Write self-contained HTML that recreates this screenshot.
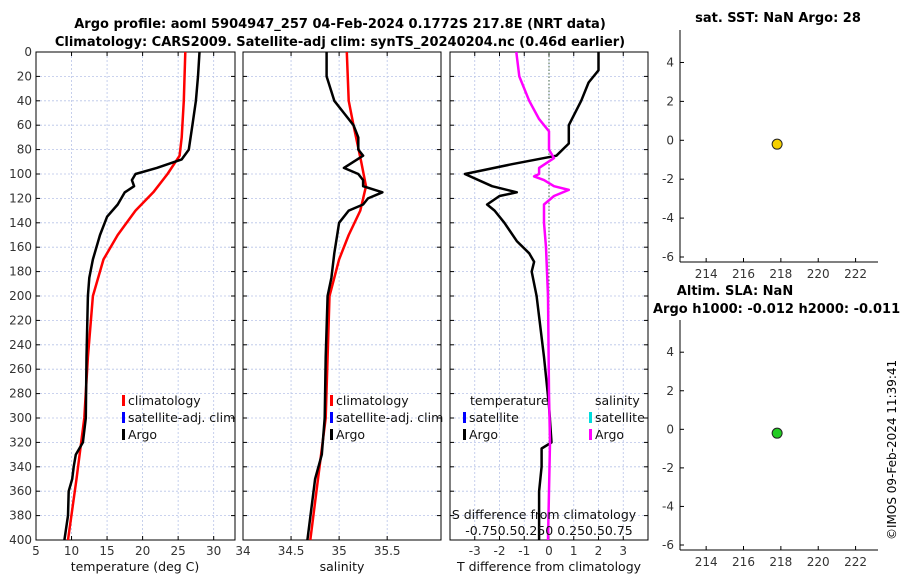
<!DOCTYPE html>
<html><head><meta charset="utf-8"><style>
html,body{margin:0;padding:0;background:#fff;}
svg{display:block;font-family:"DejaVu Sans","Liberation Sans",sans-serif;}
</style></head><body>
<svg id="fig" width="900" height="580" viewBox="0 0 900 580">
<text x="340" y="28" text-anchor="middle" font-size="13" font-weight="bold">Argo profile: aoml 5904947_257 04-Feb-2024 0.1772S 217.8E (NRT data)</text>
<text x="340" y="46" text-anchor="middle" font-size="13" font-weight="bold">Climatology: CARS2009. Satellite-adj clim: synTS_20240204.nc (0.46d earlier)</text>
<text x="778" y="22" text-anchor="middle" font-size="13" font-weight="bold">sat. SST: NaN Argo: 28</text>
<text x="735" y="295" text-anchor="middle" font-size="13" font-weight="bold">Altim. SLA: NaN</text>
<text x="653" y="313" font-size="13" font-weight="bold">Argo h1000: -0.012 h2000: -0.011</text>
<text transform="translate(896,540) rotate(-90)" font-size="12">©IMOS 09-Feb-2024 11:39:41</text>
<g id="g"></g>
</svg>
<script>
const depthTicks=[0,20,40,60,80,100,120,140,160,180,200,220,240,260,280,300,320,340,360,380,400];
const tTicks=[5,10,15,20,25,30];
const sTicks=[34,34.5,35,35.5];
const dTicks=[-3,-2,-1,0,1,2,3];
const sdTickLabels=["-0.75","0.5","0.25","0","0.25","0.5","0.75"];
const argoTDepth=[0,20,40,60,80,88,95,100,105,110,115,125,135,150,170,185,200,250,300,320,330,340,350,360,380,400];
const argoT=[28,27.8,27.5,27,26.5,25.5,22,19,18.5,18.8,17.5,16.5,15,14,13,12.5,12.3,12.1,12,11.6,10.6,10.3,10.1,9.6,9.5,9];
const climTDepth=[0,40,70,85,100,115,130,150,170,200,250,300,350,400];
const climT=[26,25.8,25.5,25.2,23.5,21.5,19,16.5,14.5,13,12.3,11.8,10.7,9.5];
const argoSDepth=[0,20,40,50,60,70,80,85,90,95,100,105,110,115,120,125,130,140,150,165,185,200,250,300,330,350,400];
const argoS=[34.87,34.87,34.95,35.05,35.15,35.2,35.2,35.25,35.15,35.05,35.2,35.25,35.25,35.45,35.3,35.25,35.1,35.0,34.98,34.95,34.92,34.88,34.86,34.85,34.82,34.75,34.67];
const climSDepth=[0,40,60,90,110,130,150,170,200,300,400];
const climS=[35.08,35.1,35.15,35.23,35.28,35.22,35.1,35.0,34.9,34.86,34.7];
const tDiffDepth=[0,15,25,40,60,75,85,92,100,110,115,118,125,130,140,155,165,172,180,200,250,290,320,325,340,360,400];
const tDiff=[2,2,1.6,1.3,0.8,0.8,0.3,-1.5,-3.4,-2.3,-1.3,-2,-2.5,-2.2,-1.8,-1.3,-0.8,-0.6,-0.7,-0.5,-0.2,0,0.1,-0.3,-0.3,-0.4,-0.4];
const sDiffDepth=[0,20,40,55,65,80,87,95,100,102,105,110,113,118,125,140,160,200,280,320,400];
const sDiff=[-0.33,-0.3,-0.2,-0.1,0,0,0.05,-0.1,-0.1,-0.15,-0.05,0.05,0.2,0.05,-0.05,-0.05,-0.03,-0.01,0,0.01,-0.01];
const sstLon=[217.8], sstVal=[-0.2];
const slaLon=[217.8], slaVal=[-0.2];
const sideYTicks=[4,2,0,-2,-4,-6];
const sideXTicks=[214,216,218,220,222];

const NS="http://www.w3.org/2000/svg";
const G=document.getElementById('g');
function el(t,a,p){const e=document.createElementNS(NS,t);for(const k in a)e.setAttribute(k,a[k]);(p||G).appendChild(e);return e;}
const Y0=52,Y1=540;
const yD=d=>Y0+d/400*(Y1-Y0);
function lin(d0,d1,p0,p1){return v=>p0+(v-d0)/(d1-d0)*(p1-p0);}

function panel(name,x0,x1,xs,xticks,xlabels,showY){
  const g=el('g',{});
  
  
  for(const d of depthTicks){el('line',{x1:x0,x2:x1,y1:yD(d),y2:yD(d),stroke:'#b8c4e8','stroke-width':0.8,'stroke-dasharray':'2,2'},g);}
  xticks.forEach(v=>{const x=xs(v);el('line',{x1:x,x2:x,y1:Y0,y2:Y1,stroke:'#b8c4e8','stroke-width':0.8,'stroke-dasharray':'2,2'},g);
    el('line',{x1:x,x2:x,y1:Y1,y2:Y1-4,stroke:'#000'},g);el('line',{x1:x,x2:x,y1:Y0,y2:Y0+4,stroke:'#000'},g);});
  xticks.forEach((v,i)=>{const t=el('text',{x:xs(v),y:Y1+15,'text-anchor':'middle','font-size':12,fill:'#333'},g);t.textContent=xlabels[i];});
  for(const d of depthTicks){el('line',{x1:x0,x2:x0+4,y1:yD(d),y2:yD(d),stroke:'#000'},g);el('line',{x1:x1,x2:x1-4,y1:yD(d),y2:yD(d),stroke:'#000'},g);
    if(showY){const t=el('text',{x:x0-4,y:yD(d)+4,'text-anchor':'end','font-size':12,fill:'#333'},g);t.textContent=d;}}
  el('rect',{x:x0,y:Y0,width:x1-x0,height:Y1-Y0,fill:'none',stroke:'#000','stroke-width':1},g);
  return g;
}
function line(g,xs,vals,depths,color,w,name){
  const p=el('polyline',{points:vals.map((v,i)=>xs(v).toFixed(1)+','+yD(depths[i]).toFixed(1)).join(' '),fill:'none',stroke:color,'stroke-width':w,'stroke-linejoin':'round'},g);
  
  
}
function txt(g,x,y,s,size,name,anchor){const t=el('text',{x:x,y:y,'font-size':size||12,'text-anchor':anchor||'start',fill:'#111'},g);t.textContent=s;
  
  return t;}
function legend(g,x,y,items){items.forEach((it,i)=>{el('rect',{x:x,y:y+i*17-10,width:3,height:11,fill:it[1]},g);txt(g,x+6,y+i*17,it[0],12.5,'legend-entry');});}

const xT=lin(5,33,36,235);
const p1=panel('temperature-panel',36,235,xT,tTicks,tTicks.map(String),true);
line(p1,xT,climT,climTDepth,'#ff0000',2.5,'climatology-temperature-line');
line(p1,xT,argoT,argoTDepth,'#000',2.5,'argo-temperature-line');
legend(p1,122,405,[['climatology','#f00'],['satellite-adj. clim','#00f'],['Argo','#000']]);
txt(p1,135,571,'temperature (deg C)',12.5,'temperature-axis-title','middle');

const xS=lin(34,36.06,243,441);
const p2=panel('salinity-panel',243,441,xS,sTicks,sTicks.map(String),false);
line(p2,xS,climS,climSDepth,'#ff0000',2.5,'climatology-salinity-line');
line(p2,xS,argoS,argoSDepth,'#000',2.5,'argo-salinity-line');
legend(p2,330,405,[['climatology','#f00'],['satellite-adj. clim','#00f'],['Argo','#000']]);
txt(p2,342,571,'salinity',12.5,'salinity-axis-title','middle');

const xD=lin(-4,4,450,648);
const xSD=lin(-1,1,450,648);
const p3=panel('difference-panel',450,648,xD,dTicks,dTicks.map(String),false);
el('line',{x1:xD(0),x2:xD(0),y1:Y0,y2:Y1,stroke:'#464',"stroke-width":1,'stroke-dasharray':'1.5,2'},p3);
line(p3,xD,tDiff,tDiffDepth,'#000',2.5,'temperature-difference-line');
line(p3,xSD,sDiff,sDiffDepth,'#ff00ff',2.5,'salinity-difference-line');
txt(p3,470,405,'temperature',12.5,'legend-temperature-header');
txt(p3,595,405,'salinity',12.5,'legend-salinity-header');
legend(p3,463,422,[['satellite','#00f'],['Argo','#000']]);
legend(p3,589,422,[['satellite','#0dd'],['Argo','#f0f']]);
txt(p3,544,519,'S difference from climatology',12.5,'s-difference-axis-title','middle');
txt(p3,549,535,'-0.750.50.250 0.250.50.75',12.5,'s-difference-tick-labels','middle');
txt(p3,549,571,'T difference from climatology',12.5,'t-difference-axis-title','middle');

function side(name,yTop,yBot,lons,vals,color){
  const g=el('g',{});
  
  
  const xs=lin(212.6,223.2,680,878);
  const ys=lin(4,-6,yTop+(yBot-yTop)*0.14,yBot-5);
  el('line',{x1:680,x2:680,y1:yTop,y2:yBot,stroke:'#000'},g);
  el('line',{x1:680,x2:878,y1:yBot,y2:yBot,stroke:'#000'},g);
  sideYTicks.forEach(v=>{el('line',{x1:680,x2:684,y1:ys(v),y2:ys(v),stroke:'#000'},g);const t=el('text',{x:674,y:ys(v)+4,'text-anchor':'end','font-size':12,fill:'#333'},g);t.textContent=v;});
  sideXTicks.forEach(v=>{el('line',{x1:xs(v),x2:xs(v),y1:yBot,y2:yBot-4,stroke:'#000'},g);const t=el('text',{x:xs(v),y:yBot+16,'text-anchor':'middle','font-size':12,fill:'#333'},g);t.textContent=v;});
  lons.forEach((lo,i)=>{const c=el('circle',{cx:xs(lo),cy:ys(vals[i]),r:5,fill:color,stroke:'#222','stroke-width':1},g);
    
    });
}
side('sst-panel',30,262,sstLon,sstVal,'#f5d000');
side('sla-panel',320,550,slaLon,slaVal,'#22cc22');
</script>
</body></html>
